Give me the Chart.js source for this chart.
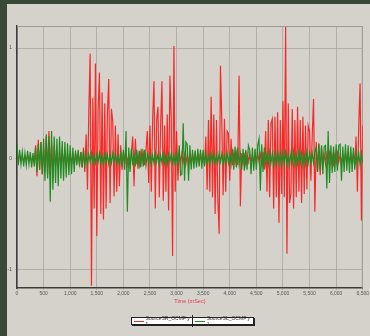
<!DOCTYPE html>
<html>
<head>
<meta charset="utf-8">
<script src="https://cdn.jsdelivr.net/npm/chart.js@4.4.1/dist/chart.umd.min.js"></script>
<style>
  body { margin: 0; background: #3a4836; width: 370px; height: 336px; overflow: hidden; }
  #panel { position: absolute; left: 7px; top: 4px; right: 0; bottom: 0; background: #d5d2cb; }
  #wrap { position: absolute; left: 0; top: 0; width: 370px; height: 336px; }
  #legend {
    position: absolute; left: 131px; top: 317px; width: 121px; height: 6px;
    background: #fff; border: 1px solid #222; box-shadow: 1px 1px 0 #222;
    display: flex; align-items: center; font: 5px "Liberation Sans", Arial, sans-serif; color: #333;
  }
  #legend .item { display: flex; align-items: center; flex: 1; padding-left: 2px; }
  #legend .item + .item { border-left: 1px solid #222; }
  #legend .swatch { width: 10px; height: 0; border-top: 1px solid; margin-right: 2px; }
</style>
</head>
<body>
<div id="panel"></div>
<div id="wrap"><canvas id="wave" width="370" height="336"></canvas></div>
<div id="legend">
  <div class="item"><span class="swatch" style="border-color:#f03030"></span>SourceSR_OCMF y 1</div>
  <div class="item"><span class="swatch" style="border-color:#2a8c2a"></span>SourceSL_OCMF y 1</div>
</div>
<script>
// sample spacing of the traces (mSec)
const STEP = 25;

// peak readings every 25 mSec, one row per 500 mSec
const redWave = [
  0.02,-0.02,0.03,-0.02,0.02,-0.03,0.02,-0.02,0.03,-0.02,0.02,-0.03,0.02,-0.04,0.12,-0.16,0.17,-0.1,0.15,-0.14,
  0.1,-0.12,0.2,-0.15,0.25,-0.1,0.14,-0.18,0.12,-0.06,0.05,-0.08,0.06,-0.05,0.07,-0.04,0.05,-0.06,0.04,-0.05,
  0.04,-0.05,0.03,-0.04,0.05,-0.03,0.04,-0.05,0.06,-0.08,0.1,-0.12,0.22,-0.28,0.42,0.95,-1.15,0.55,-0.45,0.86,
  -0.7,0.45,0.78,-0.5,0.6,-0.55,0.5,-0.45,0.42,0.72,-0.4,0.45,0.34,-0.34,0.3,-0.3,0.22,-0.25,0.12,-0.1,
  0.06,-0.04,0.05,-0.05,0.04,-0.06,0.05,0.2,-0.25,0.18,-0.05,0.04,-0.06,0.05,-0.04,0.05,-0.06,0.08,0.25,-0.22,
  0.3,-0.3,0.35,0.7,-0.45,0.35,0.47,-0.35,0.3,0.7,-0.38,0.3,-0.3,0.4,-0.47,0.75,0.35,-0.88,1.02,-0.3,
  0.25,-0.2,0.05,-0.04,0.05,-0.03,0.04,-0.05,0.04,-0.04,0.03,-0.05,0.04,-0.03,0.05,-0.04,0.03,-0.04,0.05,-0.03,
  0.04,-0.06,0.2,-0.28,0.35,-0.3,0.56,-0.35,0.4,-0.5,0.35,-0.35,-0.68,0.84,0.35,-0.33,0.36,-0.3,0.25,0.23,
  -0.2,0.18,-0.06,0.05,-0.04,0.05,-0.06,0.75,-0.43,0.05,-0.04,0.03,-0.05,0.04,-0.03,0.04,-0.05,0.03,-0.04,0.05,
  -0.04,0.05,-0.03,0.04,-0.05,0.06,-0.1,0.25,-0.3,0.35,-0.35,0.32,0.36,-0.45,0.38,-0.35,0.42,-0.58,0.35,-0.32,
  0.52,-0.35,1.19,-0.86,0.5,-0.4,-0.32,0.45,-0.45,0.35,-0.35,0.47,-0.3,0.35,-0.4,0.38,-0.32,0.3,-0.28,0.3,
  0.25,-0.2,0.2,0.54,-0.48,0.15,-0.12,0.14,-0.15,0.1,-0.05,0.04,-0.05,0.04,-0.03,0.05,-0.04,0.03,-0.05,0.04,
  -0.04,0.05,-0.03,0.04,-0.05,0.03,-0.04,0.05,-0.03,0.04,-0.05,0.04,-0.03,0.05,-0.06,0.2,-0.3,0.3,0.68,-0.56,
  0.3
];

const greenWave = [
  0.14,-0.06,0.08,-0.05,0.06,-0.07,0.05,-0.06,0.07,-0.05,0.06,-0.08,0.05,-0.07,0.1,-0.12,0.13,-0.1,0.15,-0.14,
  0.18,-0.2,0.22,-0.18,0.2,-0.39,0.25,-0.28,0.2,-0.22,0.18,-0.25,0.2,-0.18,0.16,-0.2,0.15,-0.17,0.14,-0.15,
  0.12,-0.14,0.1,-0.12,0.07,-0.06,0.08,-0.07,0.06,-0.08,0.07,-0.06,0.04,-0.05,0.04,-0.03,0.05,-0.04,0.03,-0.04,
  0.04,-0.03,0.05,-0.04,0.03,-0.05,0.04,-0.03,0.04,-0.05,0.03,-0.04,0.05,-0.03,0.04,-0.04,0.03,-0.05,0.06,-0.07,
  0.08,-0.1,0.25,-0.48,0.1,-0.12,0.09,-0.06,0.05,-0.07,0.08,-0.09,0.07,-0.08,0.09,-0.07,0.08,-0.06,0.04,-0.03,
  0.04,-0.05,0.03,-0.04,0.05,-0.03,0.04,-0.05,0.03,-0.04,0.05,-0.04,0.03,-0.05,0.04,-0.03,0.05,-0.04,0.03,-0.05,
  0.05,-0.06,0.12,-0.15,-0.14,0.32,-0.2,0.15,0.13,-0.2,0.12,-0.1,0.08,-0.09,0.07,-0.08,0.09,-0.07,0.08,-0.09,
  0.08,-0.07,0.05,-0.04,0.03,-0.05,0.04,-0.03,0.05,-0.04,0.03,-0.04,0.05,-0.03,0.04,-0.05,0.03,-0.04,0.05,-0.04,
  0.04,-0.05,0.09,-0.1,0.11,-0.08,0.1,-0.05,0.04,-0.1,0.09,-0.11,0.08,-0.1,0.12,0.08,-0.14,0.1,-0.11,0.09,
  -0.1,0.12,0.18,-0.29,0.13,-0.12,0.1,-0.05,0.04,-0.05,0.06,-0.04,0.05,-0.06,0.04,-0.05,0.06,-0.04,0.05,-0.06,
  0.05,-0.04,0.06,-0.05,0.04,-0.06,0.05,-0.04,0.06,-0.05,0.04,-0.05,0.06,-0.04,0.05,-0.06,0.04,-0.05,0.06,-0.04,
  0.05,-0.04,0.05,-0.04,0.06,0.1,-0.12,0.13,-0.1,0.12,-0.14,0.11,0.12,-0.27,0.25,-0.22,0.12,-0.13,0.11,-0.12,
  0.13,-0.11,0.12,0.13,-0.2,0.11,-0.12,0.13,-0.11,0.12,-0.13,0.11,-0.12,0.1,-0.1,0.05,-0.04,0.05,-0.06,0.05,
  -0.04
];

const yTicks = [-1, 0, 1];

function toPoints(values) {
  return values.map((v, i) => ({ x: i * STEP, y: v }));
}

// light frame on the top and right of the plot
const frame = {
  id: "frame",
  beforeDatasetsDraw(chart) {
    const a = chart.chartArea;
    const ctx = chart.ctx;
    ctx.save();
    ctx.strokeStyle = "#9e9b95";
    ctx.lineWidth = 1;
    ctx.beginPath();
    ctx.moveTo(a.left, a.top + 0.5);
    ctx.lineTo(a.right - 0.5, a.top + 0.5);
    ctx.lineTo(a.right - 0.5, a.bottom);
    ctx.stroke();
    ctx.restore();
  },
};

const gridColor = "rgba(150, 147, 140, 0.55)";

new Chart(document.getElementById("wave").getContext("2d"), {
  type: "line",
  data: {
    datasets: [
      {
        label: "SourceSL_OCMF y 1",
        data: toPoints(greenWave),
        borderColor: "rgb(34, 140, 34)",
        borderWidth: 1.2,
        pointRadius: 0,
        tension: 0,
        order: 0,
      },
      {
        label: "SourceSR_OCMF y 1",
        data: toPoints(redWave),
        borderColor: "rgba(255, 25, 25, 0.92)",
        borderWidth: 1.2,
        pointRadius: 0,
        tension: 0,
        order: 1,
      },
    ],
  },
  options: {
    responsive: false,
    animation: false,
    layout: { padding: { left: 7, top: 26, right: 4, bottom: 31 } },
    scales: {
      x: {
        type: "linear",
        min: 0,
        max: 6500,
        afterFit: (s) => { s.height = 17; },
        ticks: { stepSize: 500, color: "#555", font: { size: 5 }, padding: 1, maxRotation: 0 },
        grid: { color: gridColor, tickLength: 2 },
        border: { color: "#3c3c3c", width: 1.5 },
        title: {
          display: true,
          text: "Time (mSec)",
          color: "#e8383d",
          font: { size: 5.5 },
          padding: { top: 0, bottom: 0 },
        },
      },
      y: {
        min: -1.17,
        max: 1.2,
        afterFit: (s) => { s.width = 10; },
        afterBuildTicks: (s) => { s.ticks = yTicks.map((v) => ({ value: v })); },
        ticks: { color: "#555", font: { size: 5 }, padding: 3 },
        grid: { color: gridColor, tickLength: 2 },
        border: { color: "#3c3c3c", width: 1.5 },
      },
    },
    plugins: {
      legend: { display: false },
      tooltip: { enabled: false },
    },
  },
  plugins: [frame],
});
</script>
</body>
</html>
